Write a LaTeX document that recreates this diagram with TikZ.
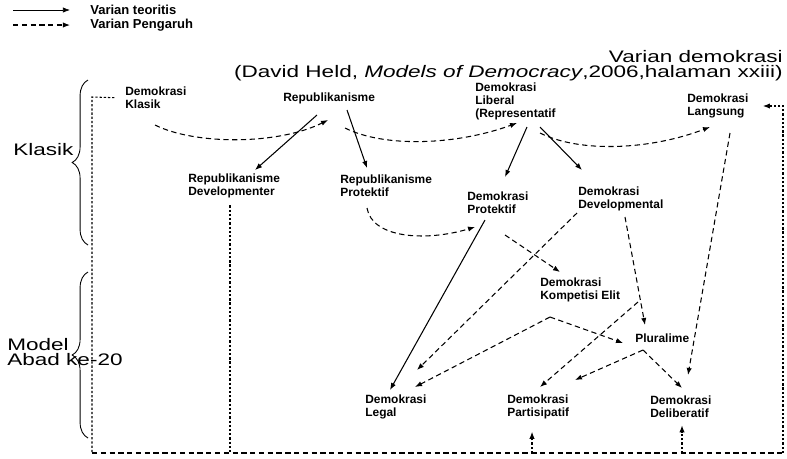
\documentclass[tikz,border=0pt]{standalone}
\usepackage{fontspec}
\setmainfont{Liberation Sans}
\usepackage{xcolor}
\usepackage{graphicx}
\usetikzlibrary{arrows.meta,calc,decorations.pathreplacing}

\newcommand{\lebar}[1]{\scalebox{1.35}[1]{#1}}

\tikzset{
    kotak/.style={inner sep=0pt, anchor=west, align=left, font=\fontsize{6.8}{7.4}\selectfont\bfseries},
    teori/.style={line width=0.6pt, -{Latex[length=4pt,width=3pt]}},
    pengaruh/.style={line width=0.6pt, dash pattern=on 3pt off 2pt, -{Latex[length=4pt,width=3pt]}},
    bingkai/.style={line width=0.6pt, dash pattern=on 1.3pt off 1.1pt},
    bingkaibawah/.style={line width=0.6pt, dash pattern=on 3pt off 2pt},
    kurung/.style={line width=0.5pt, decorate, decoration={brace,amplitude=9pt}}
}

\begin{document}
\begin{tikzpicture}[x=0.02cm,y=-0.02cm]
    \useasboundingbox (0,0) rectangle (787,458);
    % legend
    \coordinate (L1a) at (13,10) ;
    \coordinate (L1b) at (70,10) ;
    \coordinate (L2a) at (13,25) ;
    \coordinate (L2b) at (70,25) ;
    \draw[teori,line width=0.4pt] (L1a) -- (L1b);
    \draw[pengaruh] (L2a) -- (L2b);
    \node[kotak,font=\fontsize{7.4}{8}\selectfont\bfseries] (teks1) at (90,10) {Varian teoritis};
    \node[kotak,font=\fontsize{7.4}{8}\selectfont\bfseries] (teks2) at (90,25) {Varian Pengaruh};
    % judul
    \node[inner sep=0pt, anchor=east, font=\fontsize{9.5}{10}\selectfont] (judul1) at (783,57)
        {\lebar{Varian demokrasi}};
    \node[inner sep=0pt, anchor=east, font=\fontsize{9.5}{10}\selectfont] (judul2) at (783,73)
        {\lebar{(David Held, \textit{Models of Democracy},2006,halaman xxiii)}};
    % kelompok
    \node[inner sep=0pt, anchor=west, font=\fontsize{9.5}{10}\selectfont] (klasikteks) at (13,150) {\lebar{Klasik}};
    \node[inner sep=0pt, anchor=west, align=left, font=\fontsize{9.5}{8.6}\selectfont] (modelteks) at (7,352)
        {\lebar{Model}\\\lebar{Abad ke-20}};
    \draw[kurung] (88,245) -- (88,80);
    \draw[kurung] (88,438) -- (88,272);
    % varian
    \node[kotak] (klasik) at (125,98) {Demokrasi\\Klasik};
    \node[kotak] (repub) at (283,98) {Republikanisme};
    \node[kotak] (liberal) at (475,101) {Demokrasi\\Liberal\\(Representatif};
    \node[kotak] (langsung) at (687,106) {Demokrasi\\Langsung};
    \node[kotak] (repdev) at (188,186) {Republikanisme\\Developmenter};
    \node[kotak] (repprot) at (340,186) {Republikanisme\\Protektif};
    \node[kotak] (demprot) at (467,203) {Demokrasi\\Protektif};
    \node[kotak] (demdev) at (578,199) {Demokrasi\\Developmental};
    \node[kotak] (elit) at (540,290) {Demokrasi\\Kompetisi Elit};
    \node[kotak] (plural) at (635,338) {Pluralime};
    \node[kotak] (legal) at (365,407) {Demokrasi\\Legal};
    \node[kotak] (partis) at (507,407) {Demokrasi\\Partisipatif};
    \node[kotak] (delib) at (650,407) {Demokrasi\\Deliberatif};
    % varian teoritis
    \draw[teori] ($(repub.west)+(34,17)$) -- ($(repdev.west)+(67,-16)$);
    \draw[teori] ($(repub.west)+(64,12)$) -- ($(repprot.west)+(27,-18)$);
    \draw[teori] ($(liberal.west)+(52,26)$) -- ($(demprot.west)+(38,-26)$);
    \draw[teori] ($(liberal.west)+(65,26)$) -- ($(demdev.west)+(4,-29)$);
    \draw[teori] ($(demprot.west)+(18,17)$) -- ($(legal.west)+(25,-17)$);
    % varian pengaruh
    \draw[pengaruh] ($(klasik.west)+(30,27)$) .. controls +(40,20) and +(-50,25) .. ($(repub.west)+(45,22)$);
    \draw[pengaruh] ($(repub.west)+(62,30)$) .. controls +(40,20) and +(-60,22) .. ($(liberal.west)+(42,22)$);
    \draw[pengaruh] ($(liberal.west)+(65,32)$) .. controls +(40,20) and +(-60,23) .. ($(langsung.west)+(23,21)$);
    \draw[pengaruh] ($(repprot.west)+(27,22)$) .. controls +(5,30) and +(-50,15) .. ($(demprot.west)+(8,24)$);
    \draw[pengaruh] ($(demprot.west)+(38,32)$) -- ($(elit.west)+(20,-18)$);
    \draw[pengaruh] ($(demdev.west)+(-1,14)$) -- ($(legal.west)+(52,-37)$);
    \draw[pengaruh] ($(demdev.west)+(47,18)$) -- ($(plural.west)+(10,-13)$);
    \draw[pengaruh] ($(elit.west)+(10,27)$) -- ($(legal.west)+(50,-20)$);
    \draw[pengaruh] ($(elit.west)+(10,27)$) -- ($(plural.west)+(-12,5)$);
    \draw[pengaruh] ($(elit.west)+(98,12)$) -- ($(partis.west)+(33,-20)$);
    \draw[pengaruh] ($(plural.west)+(8,12)$) -- ($(partis.west)+(68,-27)$);
    \draw[pengaruh] ($(plural.west)+(8,12)$) -- ($(delib.west)+(32,-19)$);
    \draw[pengaruh] ($(langsung.west)+(43,27)$) -- ($(delib.west)+(38,-32)$);
    % bingkai
    \coordinate (fA) at (92,97) ;
    \coordinate (fB) at (92,453) ;
    \coordinate (fC) at (783,453) ;
    \coordinate (fD) at (783,106) ;
    \coordinate (fE) at (230,453) ;
    \coordinate (fP) at (532,453) ;
    \coordinate (fQ) at (682,453) ;
    \draw[bingkai,shorten <=6pt] (klasik.west) -- (fA) -- (fB);
    \draw[bingkaibawah] (fB) -- (fC);
    \draw[bingkai,-{Latex[length=4pt,width=3pt]},shorten >=8pt] (fC) -- (fD) -- (langsung.east);
    \draw[bingkai] ([yshift=-4pt]fE |- repdev.south) -- (fE);
    \draw[bingkai,-{Latex[length=4pt,width=3pt]},shorten >=7pt] (fP) -- (fP |- partis.south);
    \draw[bingkai,-{Latex[length=4pt,width=3pt]},shorten >=4pt] (fQ) -- (fQ |- delib.south);
\end{tikzpicture}
\end{document}
